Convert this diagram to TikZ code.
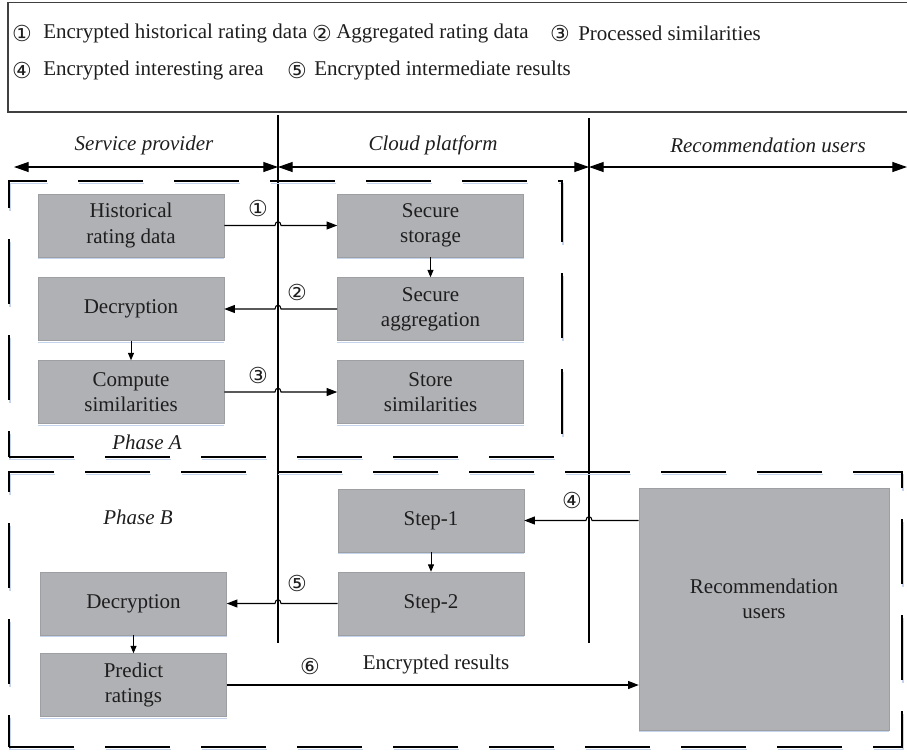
\documentclass[tikz,border=0pt]{standalone}
\usepackage{fontspec}
\setmainfont{Liberation Serif}
\newfontfamily\symfont{DejaVu Sans}
\usetikzlibrary{arrows.meta,calc}
\definecolor{boxgray}{RGB}{176,177,181}
\definecolor{shadeblue}{RGB}{196,212,236}
\definecolor{txt}{RGB}{30,30,30}
\newcommand{\cn}[1]{{\symfont\fontsize{16.5}{16.5}\selectfont #1}}
\tikzset{
  lbl/.style={font=\fontsize{15.75}{19}\selectfont, text=txt, inner sep=0pt, align=center},
  ital/.style={lbl, font=\fontsize{15.75}{19}\selectfont\itshape},
  procbox/.style={fill=boxgray, draw=boxgray!90!black, line width=0.4pt, inner sep=0pt, align=center,
    text=txt, font=\fontsize{15.75}{19}\selectfont, minimum width=139.5pt, minimum height=47.25pt},
  arr/.style={line width=0.8pt, -{Triangle[length=8pt,width=6pt]}},
  sarr/.style={line width=0.7pt, -{Triangle[length=5.5pt,width=4.5pt]}},
  darr/.style={line width=0.9pt, {Triangle[length=11pt,width=7.5pt]}-{Triangle[length=11pt,width=7.5pt]}},
  vline/.style={line width=1.1pt},
  phasebox/.style={line width=1.1pt, dash pattern=on 48.75pt off 23.25pt},
  phaseshade/.style={line width=0.8pt, shadeblue, dash pattern=on 48.75pt off 23.25pt},
}
\begin{document}
\begin{tikzpicture}[x=0.75pt,y=-0.75pt]
\useasboundingbox (0,0) rectangle (907,751);
% legend box
\draw[line width=1.2pt, draw=black!75] (910,2.5) -- (8,2.5) -- (8,112) -- (910,112);
\node[lbl] (n1) at (22,33) {\cn{①}};
\node[lbl, anchor=west] (l1) at (43,33) {Encrypted historical rating data};
\node[lbl] (n2) at (322,33) {\cn{②}};
\node[lbl, anchor=west] (l2) at (336,33) {Aggregated rating data};
\node[lbl] (n3) at (560,33) {\cn{③}};
\node[lbl, anchor=west] (l3) at (578,33) {Processed similarities};
\node[lbl] (n4) at (22,70) {\cn{④}};
\node[lbl, anchor=west] (l4) at (43,70) {Encrypted interesting area};
\node[lbl] (n5) at (297,70) {\cn{⑤}};
\node[lbl, anchor=west] (l5) at (314,70) {Encrypted intermediate results};

% vertical lines
\coordinate (L1) at (278,115);
\coordinate (L1b) at (278,643);
\coordinate (L2) at (589,118);
\coordinate (L2b) at (589,643);
\draw[vline] (L1) -- (L1b);
\draw[vline] (L2) -- (L2b);

% top arrows
\coordinate (A0) at (14,167);
\coordinate (A1) at (278,167);
\coordinate (A2) at (589,167);
\coordinate (A3) at (907,167);
\draw[darr] (A0) -- (A1);
\draw[darr] (A1) -- (A2);
\draw[darr] (A2) -- (A3);
\node[ital] (t1) at (144,145) {Service provider};
\node[ital] (t2) at (433,145) {Cloud platform};
\node[ital] (t3) at (768,145) {Recommendation users};

% phase boxes
\draw[phaseshade] (10,459.5) -- (563,459.5) -- (563,183.5) -- (10,183.5) -- cycle;
\draw[phasebox] (9,457) -- (562,457) -- (562,181) -- (9,181) -- cycle;
\draw[phaseshade] (10,749.5) -- (903,749.5) -- (903,474.5) -- (10,474.5) -- cycle;
\draw[phasebox] (9,747) -- (902,747) -- (902,472) -- (9,472) -- cycle;
\node[ital] (pa) at (147,442) {Phase A};
\node[ital] (pb) at (138,517) {Phase B};

% boxes
\node[procbox] (hist) at (131,225.5) {Historical\\rating data};
\node[procbox] (decA) at (131,309) {Decryption};
\node[procbox] (comp) at (131,392) {Compute\\similarities};
\node[procbox] (stor) at (430.5,225.5) {Secure\\storage};
\node[procbox] (aggr) at (430.5,309) {Secure\\aggregation};
\node[procbox] (stsim) at (430.5,392) {Store\\similarities};
\node[procbox] (step1) at (431,520.5) {Step-1};
\node[procbox] (step2) at (431,603.5) {Step-2};
\node[procbox] (decB) at (133.5,603.5) {Decryption};
\node[procbox] (pred) at (133.5,685) {Predict\\ratings};
\node[procbox, minimum width=187.5pt, minimum height=181.5pt] (rec) at (764,609) {};
\node[lbl] (rect) at (764,599) {Recommendation\\users};
\foreach \b in {hist,decA,comp,stor,aggr,stsim,step1,step2,decB,pred,rec}
  \draw[shadeblue, line width=1pt] ($(\b.south west)+(0,1.5)$) -- ($(\b.south east)+(0,1.5)$);

% vertical small arrows
\draw[sarr] (stor) -- (aggr);
\draw[sarr] (decA) -- (comp);
\draw[sarr] (step1) -- (step2);
\draw[sarr] (decB) -- (pred);

% horizontal arrows with hops
\draw[arr] (hist.east) -- ($(hist.east -| L1)+(-3,0)$) .. controls +(0,-5) and +(0,-5) .. ($(hist.east -| L1)+(3,0)$) -- (stor.west);
\draw[arr] (aggr.west) -- ($(aggr.west -| L1)+(3,0)$) .. controls +(0,-5) and +(0,-5) .. ($(aggr.west -| L1)+(-3,0)$) -- (decA.east);
\draw[arr] (comp.east) -- ($(comp.east -| L1)+(-3,0)$) .. controls +(0,-5) and +(0,-5) .. ($(comp.east -| L1)+(3,0)$) -- (stsim.west);
\draw[arr] (step1.east -| rec.west) -- ($(step1.east -| L2)+(3,0)$) .. controls +(0,-5) and +(0,-5) .. ($(step1.east -| L2)+(-3,0)$) -- (step1.east);
\draw[arr] (step2.west) -- ($(step2.west -| L1)+(3,0)$) .. controls +(0,-5) and +(0,-5) .. ($(step2.west -| L1)+(-3,0)$) -- (decB.east);
\draw[arr] (pred.east) -- (pred.east -| rec.west);

% arrow labels
\node[lbl] (c1) at (258,208) {\cn{①}};
\node[lbl] (c2) at (297,292) {\cn{②}};
\node[lbl] (c3) at (258,375) {\cn{③}};
\node[lbl] (c4) at (572,500) {\cn{④}};
\node[lbl] (c5) at (297,583) {\cn{⑤}};
\node[lbl] (c6) at (310,666) {\cn{⑥}};
\node[lbl] (er) at (436,664) {Encrypted results};
\end{tikzpicture}
\end{document}
